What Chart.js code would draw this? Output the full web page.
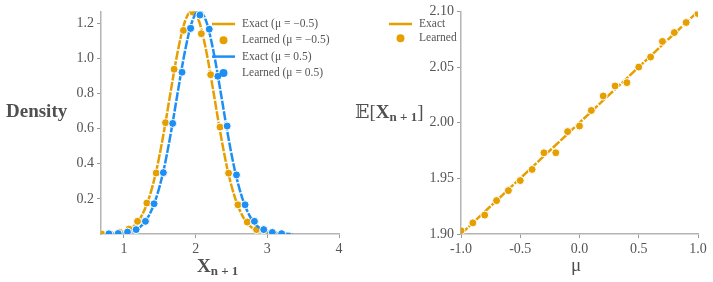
<!DOCTYPE html>
<html>
<head>
<meta charset="utf-8">
<script src="https://cdn.jsdelivr.net/npm/chart.js@4/dist/chart.umd.min.js"></script>
<style>
  html, body { margin: 0; padding: 0; background: #fff; }
  #wrap { position: relative; width: 713px; height: 282px; overflow: hidden; font-family: "Liberation Serif", "DejaVu Serif", serif; color: #555; }
  .box { position: absolute; top: 0; height: 282px; }
  .ttl { position: absolute; white-space: nowrap; color: #505050; }
  .ttl b { font-weight: bold; }
  .ttl sub { font-size: 13px; font-weight: bold; vertical-align: -3px; }
</style>
</head>
<body>
<div id="wrap">
  <div class="box" style="left:0;width:356px"><canvas id="densityChart"></canvas></div>
  <div class="box" style="left:356px;width:357px"><canvas id="meanChart"></canvas></div>
  <div class="ttl" style="left:6px;top:100px;font-size:19px"><b>Density</b></div>
  <div class="ttl" style="left:197px;top:255px;font-size:19px"><b>X</b><sub>n + 1</sub></div>
  <div class="ttl" style="left:355px;top:100px;font-size:19px">𝔼[<b>X</b><sub>n + 1</sub>]</div>
  <div class="ttl" style="left:571px;top:254px;font-size:19px">μ</div>
</div>
<script>
'use strict';

// Colores
const naranja = '#E69F00';
const azul = '#1E8FF2';

// Izquierda - densidad de X(n+1)
const gridNeg = [0.65, 0.75, 0.85, 0.95, 1.05, 1.15, 1.25, 1.35, 1.45, 1.55, 1.65, 1.75, 1.85, 1.95,
  2.05, 2.15, 2.25, 2.35, 2.45, 2.55, 2.65, 2.75, 2.85, 2.95, 3.05, 3.15, 3.25];
const exactDensityNeg = [0.0002, 0.0008, 0.0027, 0.008, 0.021, 0.049, 0.106, 0.205, 0.357, 0.564, 0.805, 1.037, 1.207, 1.270,
  1.207, 1.037, 0.805, 0.564, 0.357, 0.205, 0.106, 0.049, 0.021, 0.008, 0.0027, 0.0008, 0.0002];
const gridPos = [0.75, 0.85, 0.95, 1.05, 1.15, 1.25, 1.35, 1.45, 1.55, 1.65, 1.75, 1.85, 1.95, 2.05,
  2.15, 2.25, 2.35, 2.45, 2.55, 2.65, 2.75, 2.85, 2.95, 3.05, 3.15, 3.25, 3.35];
const exactDensityPos = [0.0002, 0.0008, 0.0027, 0.008, 0.021, 0.049, 0.106, 0.205, 0.357, 0.564, 0.805, 1.037, 1.207, 1.270,
  1.207, 1.037, 0.805, 0.564, 0.357, 0.205, 0.106, 0.049, 0.021, 0.008, 0.0027, 0.0008, 0.0002];

const learnedXNeg = [0.69, 0.81, 0.94, 1.07, 1.19, 1.32, 1.45, 1.58, 1.70, 1.83, 1.96, 2.08, 2.21, 2.34, 2.46, 2.59, 2.72, 2.85, 2.97, 3.10];
const learnedDensityNeg = [0.0, 0.002, 0.010, 0.028, 0.072, 0.176, 0.347, 0.633, 0.937, 1.158, 1.262, 1.139, 0.906, 0.608, 0.346, 0.166, 0.068, 0.025, 0.006, 0.001];
const learnedXPos = [0.79, 0.92, 1.05, 1.17, 1.30, 1.42, 1.55, 1.68, 1.81, 1.93, 2.06, 2.19, 2.31, 2.44, 2.57, 2.69, 2.82, 2.95, 3.07, 3.20];
const learnedDensityPos = [0.001, 0.003, 0.011, 0.025, 0.072, 0.172, 0.349, 0.629, 0.920, 1.169, 1.245, 1.165, 0.897, 0.614, 0.336, 0.166, 0.072, 0.025, 0.009, 0.002];

const densityXTicks = [1, 2, 3, 4];
const densityYTicks = [0.2, 0.4, 0.6, 0.8, 1.0, 1.2];

// Derecha - E[X(n+1)] segun mu
const muEnds = [-1.0, 1.0];
const exactMean = [1.90, 2.10];
const muValues = [-1.0, -0.9, -0.8, -0.7, -0.6, -0.5, -0.4, -0.3, -0.2, -0.1, 0.0, 0.1, 0.2, 0.3, 0.4, 0.5, 0.6, 0.7, 0.8, 0.9, 1.0];
const learnedMean = [1.903, 1.910, 1.917, 1.930, 1.939, 1.948, 1.958, 1.973, 1.973, 1.992, 1.997, 2.011, 2.024, 2.033, 2.036, 2.050, 2.059, 2.073, 2.081, 2.090, 2.098];

const meanXTicks = [-1.0, -0.5, 0.0, 0.5, 1.0];
const meanYTicks = [1.90, 1.95, 2.00, 2.05, 2.10];

Chart.defaults.font.family = '"Liberation Serif", "DejaVu Serif", serif';
Chart.defaults.color = '#555';
Chart.defaults.animation = false;

const pts = (xs, ys) => xs.map((x, i) => ({ x, y: ys[i] }));

// leyenda dentro del area del grafico
const innerLegend = {
  id: 'innerLegend',
  afterDraw(chart, args, opts) {
    if (!opts.items) return;
    const ctx = chart.ctx;
    ctx.save();
    ctx.font = opts.font;
    ctx.textBaseline = 'middle';
    opts.items.forEach((it, i) => {
      const ds = chart.data.datasets[it.index];
      const y = opts.y + i * opts.row;
      if (it.kind === 'line') {
        ctx.strokeStyle = ds.borderColor;
        ctx.lineWidth = 2.5;
        ctx.beginPath();
        ctx.moveTo(opts.x, y);
        ctx.lineTo(opts.x + opts.len, y);
        ctx.stroke();
      } else {
        ctx.fillStyle = ds.backgroundColor;
        ctx.beginPath();
        ctx.arc(opts.x + opts.len / 2, y, 4, 0, Math.PI * 2);
        ctx.fill();
      }
      ctx.fillStyle = '#555';
      ctx.fillText(ds.label, opts.x + opts.len + 7, y);
    });
    ctx.restore();
  }
};

function lineSet(label, data, color, order) {
  return {
    type: 'line', label, data, order,
    borderColor: color, backgroundColor: color,
    borderWidth: 2.5, borderDash: [9, 1.5],
    pointRadius: 0, cubicInterpolationMode: 'monotone', clip: 0
  };
}

function dotSet(label, data, color, order) {
  return {
    type: 'scatter', label, data, order,
    backgroundColor: color, borderColor: '#fff', borderWidth: 1,
    pointRadius: 4, showLine: false, clip: 0
  };
}

function axis(min, max, ticks, fmt, fitKey, fitSize) {
  return {
    type: 'linear', min, max,
    afterBuildTicks: s => { s.ticks = ticks.map(v => ({ value: v })); },
    afterFit: s => { s[fitKey] = fitSize; },
    ticks: { font: { size: 14 }, color: '#555', padding: 3, callback: fmt },
    grid: { drawOnChartArea: false, tickLength: 4, color: '#999', lineWidth: 1 },
    border: { color: '#b4b4b4', width: 1.5 }
  };
}

new Chart(document.getElementById('densityChart'), {
  data: {
    datasets: [
      lineSet('Exact (μ = −0.5)', pts(gridNeg, exactDensityNeg), naranja, 4),
      dotSet('Learned (μ = −0.5)', pts(learnedXNeg, learnedDensityNeg), naranja, 3),
      lineSet('Exact (μ = 0.5)', pts(gridPos, exactDensityPos), azul, 2),
      dotSet('Learned (μ = 0.5)', pts(learnedXPos, learnedDensityPos), azul, 1)
    ]
  },
  options: {
    responsive: true, maintainAspectRatio: false,
    layout: { padding: { top: 11, right: 17, bottom: 0, left: 0 } },
    scales: {
      x: axis(0.68, 4.0, densityXTicks, v => String(v), 'height', 48),
      y: axis(0, 1.266, densityYTicks, v => v.toFixed(1), 'width', 101)
    },
    plugins: {
      legend: { display: false },
      tooltip: { enabled: false },
      innerLegend: {
        x: 212, y: 24, row: 16.3, len: 23, font: '11.5px "Liberation Serif", serif',
        items: [{ index: 0, kind: 'line' }, { index: 1, kind: 'dot' }, { index: 2, kind: 'line' }, { index: 3, kind: 'dot' }]
      }
    }
  },
  plugins: [innerLegend]
});

new Chart(document.getElementById('meanChart'), {
  data: {
    datasets: [
      lineSet('Exact', pts(muEnds, exactMean), naranja, 2),
      dotSet('Learned', pts(muValues, learnedMean), naranja, 1)
    ]
  },
  options: {
    responsive: true, maintainAspectRatio: false,
    layout: { padding: { top: 11, right: 15, bottom: 0, left: 0 } },
    scales: {
      x: axis(-1.0, 1.0, meanXTicks, v => v.toFixed(1), 'height', 48),
      y: axis(1.90, 2.10, meanYTicks, v => v.toFixed(2), 'width', 105)
    },
    plugins: {
      legend: { display: false },
      tooltip: { enabled: false },
      innerLegend: {
        x: 33, y: 24, row: 14.3, len: 23, font: '11.5px "Liberation Serif", serif',
        items: [{ index: 0, kind: 'line' }, { index: 1, kind: 'dot' }]
      }
    }
  },
  plugins: [innerLegend]
});
</script>
</body>
</html>
